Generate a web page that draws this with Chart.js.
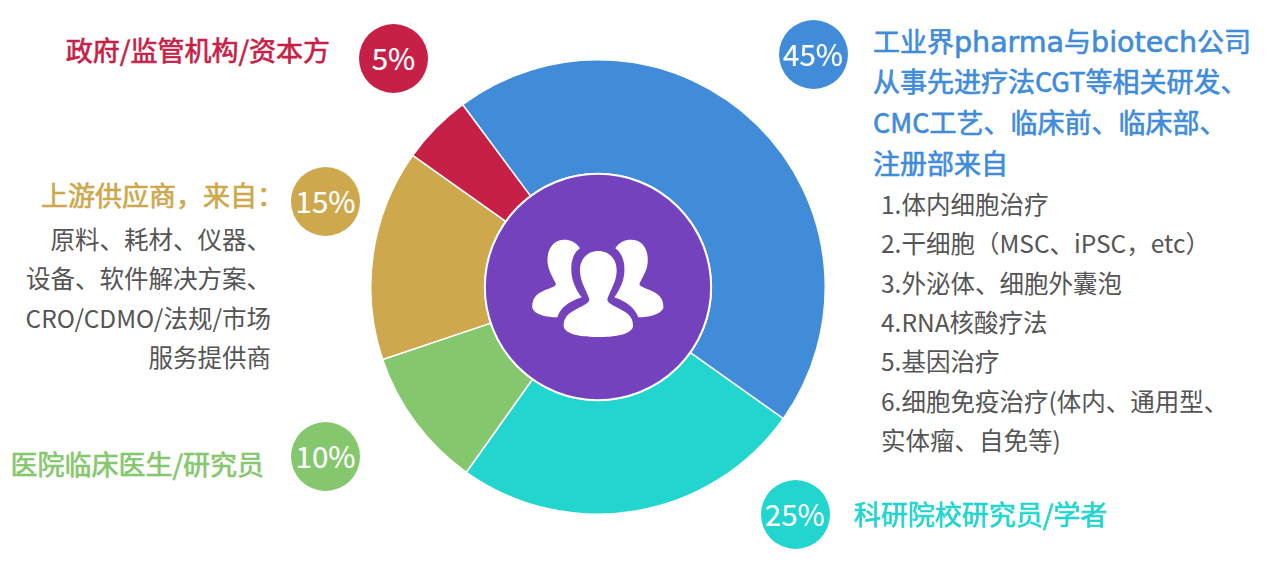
<!DOCTYPE html>
<html>
<head>
<meta charset="utf-8">
<script src="https://cdn.jsdelivr.net/npm/chart.js@4/dist/chart.umd.min.js"></script>
<style>
  html, body { margin: 0; padding: 0; background: #fff; }
  body { position: relative; width: 1268px; height: 572px; overflow: hidden; font-family: "Noto Sans CJK SC", "Noto Sans", sans-serif; }
  #wrap { position: absolute; left: 370px; top: 59px; width: 456px; height: 456px; }
  .badge { position: absolute; width: 69px; height: 69px; line-height: 66px; border-radius: 50%; color: #fff; text-align: center; font-size: 29.5px; -webkit-text-stroke: 0.2px #fff; }
  .line { position: absolute; white-space: nowrap; line-height: 34px; height: 34px; }
  .head { font-size: 27px; font-weight: 400; -webkit-text-stroke: 0.65px currentColor; }
  .body { font-size: 24.5px; color: #555; }
  .lat { font-family: "DejaVu Sans", sans-serif; font-size: 28.5px; }
  svg { position: absolute; left: 480px; top: 210px; }
</style>
</head>
<body>
<div id="wrap"><canvas id="chart-share"></canvas></div>
<div id="overlay"></div>
<svg width="240" height="160" viewBox="0 0 720 480">
  <path fill="#fff" d="M300 115 C285 90 255 85 235 92 C210 102 200 130 203 160 C206 185 220 205 228 222 C225 232 205 235 185 245 C165 255 155 270 157 295 C165 315 200 322 232 322 C240 295 265 275 305 262 C285 235 272 205 274 170 C275 145 285 125 300 115 Z"/>
  <path fill="#fff" d="M406 115 C420 125 432 145 433 170 C436 205 422 235 403 262 C440 275 465 295 475 322 C505 322 540 315 550 295 C552 270 540 255 520 245 C500 235 482 232 478 222 C486 205 500 185 503 160 C506 130 496 102 472 92 C450 85 420 90 406 115 Z"/>
  <path fill="#fff" d="M355 123 C320 123 298 150 300 185 C302 220 322 245 328 268 C328 282 305 288 285 300 C262 312 250 325 251 350 C258 375 310 381 355 381 C400 381 452 375 459 350 C460 325 448 312 425 300 C405 288 382 282 382 268 C388 245 408 220 410 185 C412 150 390 123 355 123 Z"/>
</svg>
<script>
// Audience share, clockwise from the big blue slice
const categories = ['工业界', '科研院校', '医院临床', '上游供应商', '政府/监管/资本方'];
const shareValues = [45, 25, 10, 15, 5];
const sliceColors = ['#418cd9', '#22d5cf', '#85c76d', '#cda84d', '#c72046'];

const blueHead = ['工业界pharma与biotech公司', '从事先进疗法CGT等相关研发、', 'CMC工艺、临床前、临床部、', '注册部来自'];
const blueList = ['1.体内细胞治疗', '2.干细胞（MSC、iPSC，etc）', '3.外泌体、细胞外囊泡', '4.RNA核酸疗法', '5.基因治疗', '6.细胞免疫治疗(体内、通用型、', '实体瘤、自免等)'];
const goldHead = '上游供应商，来自：';
const goldList = ['原料、耗材、仪器、', '设备、软件解决方案、', 'CRO/CDMO/法规/市场', '服务提供商'];
const tealHead = '科研院校研究员/学者';
const greenHead = '医院临床医生/研究员';
const redHead = '政府/监管机构/资本方';

const overlay = document.getElementById('overlay');

function addLine(text, cls, color, x, centerY, alignRight) {
  const el = document.createElement('div');
  el.className = 'line ' + cls;
  // the heading's latin words are drawn wider than the CJK font's own
  if (cls === 'head') {
    text.split(/([a-z]+)/).forEach((part, i) => {
      const span = document.createElement('span');
      span.textContent = part;
      if (i % 2) span.className = 'lat';
      el.appendChild(span);
    });
  } else {
    el.textContent = text;
  }
  el.style.top = (centerY - 17) + 'px';
  if (alignRight) el.style.right = (1268 - x) + 'px';
  else el.style.left = x + 'px';
  if (color) el.style.color = color;
  overlay.appendChild(el);
}

function addBadge(index, cx, cy) {
  const el = document.createElement('div');
  el.className = 'badge';
  el.textContent = shareValues[index] + '%';
  el.style.left = (cx - 34.5) + 'px';
  el.style.top = (cy - 34.5) + 'px';
  el.style.background = sliceColors[index];
  overlay.appendChild(el);
}

addBadge(0, 813, 54);
addBadge(1, 795, 514);
addBadge(2, 325.5, 456);
addBadge(3, 325.5, 201);
addBadge(4, 393.5, 58);

blueHead.forEach((t, i) => addLine(t, 'head', sliceColors[0], 873, 40.5 + i * 40.7, false));
blueList.forEach((t, i) => addLine(t, 'body', null, 881, 204 + i * 39.3, false));
goldList.forEach((t, i) => addLine(t, 'body', null, 271, 239 + i * 39.3, true));
addLine(goldHead, 'head', sliceColors[3], 284, 195, true);
addLine(tealHead, 'head', sliceColors[1], 854, 513.5, false);
addLine(greenHead, 'head', sliceColors[2], 264, 464, true);
addLine(redHead, 'head', sliceColors[4], 330, 50, true);

// Purple disc in the hole of the doughnut
const centerDisc = {
  id: 'centerDisc',
  afterDraw(chart) {
    const arc = chart.getDatasetMeta(0).data[0];
    const { ctx } = chart;
    ctx.save();
    ctx.beginPath();
    ctx.arc(arc.x, arc.y, arc.innerRadius, 0, Math.PI * 2);
    ctx.fillStyle = '#7442bd';
    ctx.fill();
    ctx.lineWidth = 2;
    ctx.strokeStyle = '#fff';
    ctx.stroke();
    ctx.restore();
  },
};

new Chart(document.getElementById('chart-share'), {
  type: 'doughnut',
  data: {
    labels: categories,
    datasets: [{
      data: shareValues,
      backgroundColor: sliceColors,
      borderColor: '#fff',
      borderWidth: 1.5,
    }],
  },
  options: {
    responsive: true,
    maintainAspectRatio: false,
    animation: false,
    rotation: -36.6,
    cutout: '49.8%',
    plugins: { legend: { display: false }, tooltip: { enabled: false } },
  },
  plugins: [centerDisc],
});
</script>
</body>
</html>
